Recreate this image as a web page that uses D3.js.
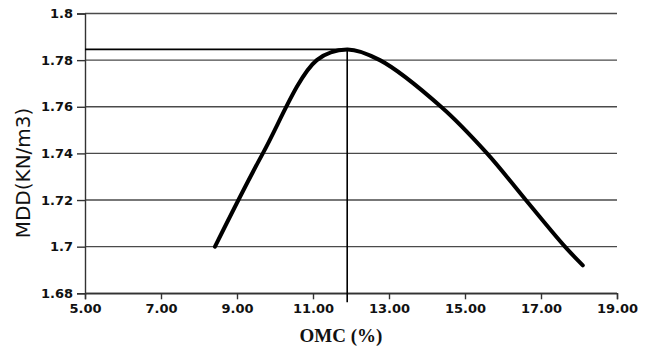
<!DOCTYPE html>
<html>
<head>
<meta charset="utf-8">
<script src="https://cdn.jsdelivr.net/npm/d3@7"></script>
<style>
  html, body { margin: 0; padding: 0; background: #fff; }
  svg { display: block; }
</style>
</head>
<body>
<svg id="chart"></svg>
<script>
// Compaction curve
const omcValues = [8.42, 9.68, 11.1, 11.9, 12.76, 14.37, 15.58, 16.6, 17.63, 18.1];
const mddValues = [1.700, 1.740, 1.780, 1.7846, 1.780, 1.760, 1.740, 1.720, 1.700, 1.692];

// Optimum point marked with guide lines
const optimumOmc = 11.9;
const optimumMdd = 1.7846;

// Axis ticks
const xTicks = [5, 7, 9, 11, 13, 15, 17, 19];
const yTicks = [1.68, 1.7, 1.72, 1.74, 1.76, 1.78, 1.8];
const yTickLabels = ["1.68", "1.7", "1.72", "1.74", "1.76", "1.78", "1.8"];

const width = 652, height = 348;
const svg = d3.select("#chart").attr("width", width).attr("height", height);

const x = d3.scaleLinear().domain([5, 19]).range([85, 617]);
const y = d3.scaleLinear().domain([1.68, 1.8]).range([293.3, 13.5]);

// Horizontal gridlines
svg.append("g")
  .selectAll("line")
  .data(yTicks)
  .join("line")
  .attr("x1", x(5))
  .attr("x2", x(19))
  .attr("y1", d => y(d))
  .attr("y2", d => y(d))
  .attr("stroke", "#4a4a4a")
  .attr("stroke-width", 1.4);

// Y axis
const yAxis = svg.append("g")
  .attr("transform", `translate(${x(5)},0)`)
  .call(d3.axisLeft(y).tickValues(yTicks).tickSize(8).tickPadding(4)
    .tickFormat((d, i) => yTickLabels[i]));

// X axis
const xAxis = svg.append("g")
  .attr("transform", `translate(0,${y(1.68)})`)
  .call(d3.axisBottom(x).tickValues(xTicks).tickSize(6).tickPadding(4)
    .tickFormat(d3.format(".2f")));

[yAxis, xAxis].forEach(ax => {
  ax.select(".domain").attr("stroke", "#333").attr("stroke-width", 1.4);
  ax.selectAll(".tick line").attr("stroke", "#333").attr("stroke-width", 1.4);
  ax.selectAll("text")
    .attr("fill", "#111")
    .style("font-family", "'DejaVu Sans', sans-serif")
    .style("font-weight", "bold")
    .style("font-size", "13px");
});

// Guide lines to the optimum
svg.append("line")
  .attr("x1", x(5))
  .attr("x2", x(optimumOmc))
  .attr("y1", y(optimumMdd))
  .attr("y2", y(optimumMdd))
  .attr("stroke", "#000")
  .attr("stroke-width", 1.6);

svg.append("line")
  .attr("x1", x(optimumOmc))
  .attr("x2", x(optimumOmc))
  .attr("y1", y(optimumMdd))
  .attr("y2", y(1.68) + 9)
  .attr("stroke", "#000")
  .attr("stroke-width", 1.6);

// Compaction curve
const line = d3.line()
  .x((d, i) => x(omcValues[i]))
  .y(d => y(d))
  .curve(d3.curveCatmullRom.alpha(0.5));

svg.append("path")
  .attr("d", line(mddValues))
  .attr("fill", "none")
  .attr("stroke", "#000")
  .attr("stroke-width", 4)
  .attr("stroke-linecap", "round")
  .attr("stroke-linejoin", "round");

// Axis titles
svg.append("text")
  .attr("x", 341)
  .attr("y", 341.5)
  .attr("text-anchor", "middle")
  .style("font-family", "'Liberation Serif', serif")
  .style("font-weight", "bold")
  .style("font-size", "19px")
  .attr("fill", "#111")
  .text("OMC (%)");

svg.append("text")
  .attr("transform", "translate(30,173) rotate(-90)")
  .attr("text-anchor", "middle")
  .style("font-family", "'DejaVu Sans', sans-serif")
  .style("font-size", "20px")
  .attr("fill", "#111")
  .text("MDD(KN/m3)");
</script>
</body>
</html>
